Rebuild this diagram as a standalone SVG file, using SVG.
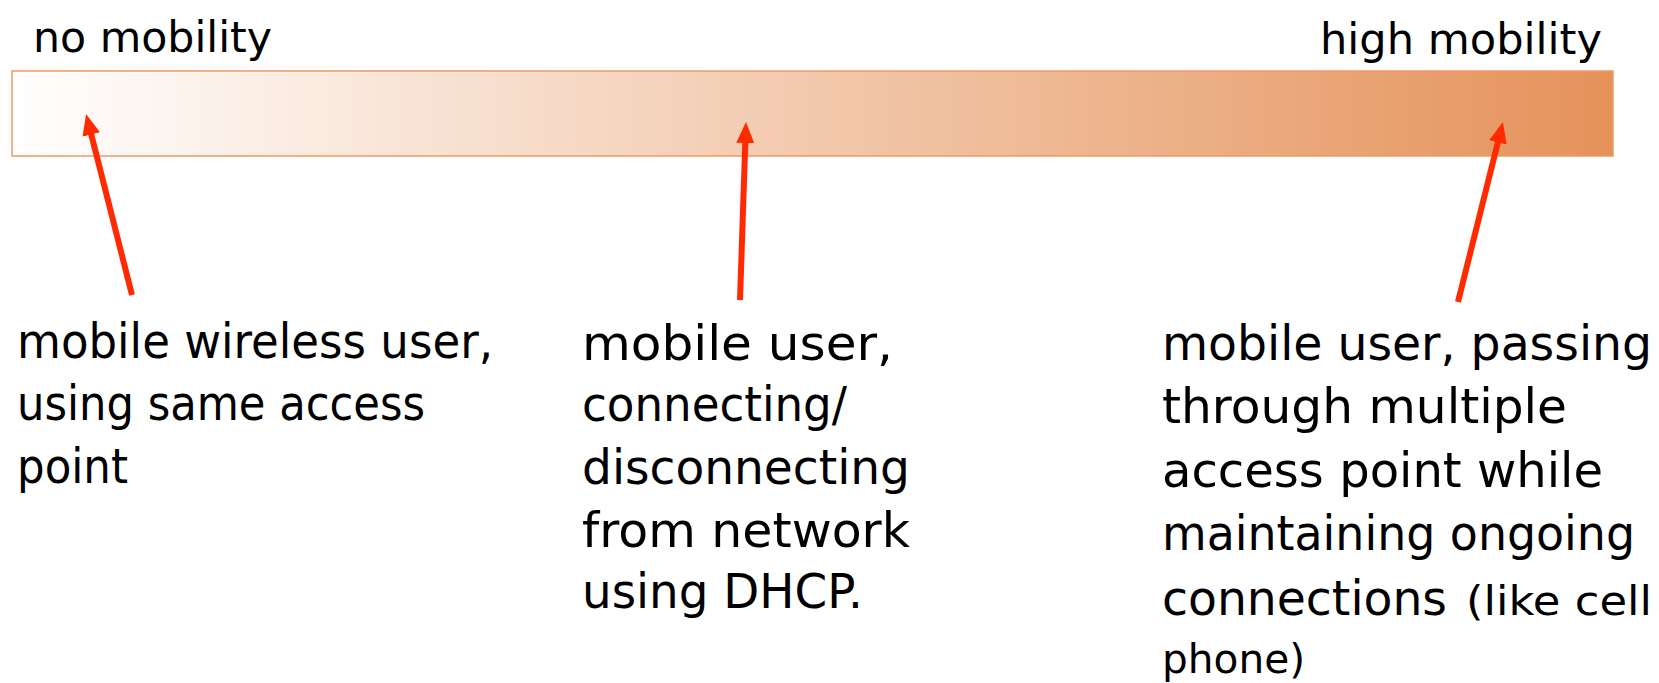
<svg xmlns="http://www.w3.org/2000/svg" width="1659" height="683" viewBox="0 0 1659 683">
  <defs>
    <linearGradient id="mob" x1="0" y1="0" x2="1" y2="0">
      <stop offset="0" stop-color="#FFFFFF"/>
      <stop offset="1" stop-color="#E5925A"/>
    </linearGradient>
    <marker id="ah" markerUnits="userSpaceOnUse" markerWidth="24" markerHeight="20" refX="1" refY="9" orient="auto">
      <path d="M0,0 L21,9 L0,18 Z" fill="#FF2A00"/>
    </marker>
    <style>
      .t { font-family: "DejaVu Sans", "Liberation Sans", sans-serif; fill: #000; }
      .lbl { font-size: 43px; }
      .big { font-size: 48px; }
      .sm { font-size: 40px; }
      .arr { stroke: #FF2A00; stroke-width: 6; fill: none; marker-end: url(#ah); }
    </style>
  </defs>
  <rect width="1659" height="683" fill="#FFFFFF"/>

  <g id="scale-bar">
    <rect x="12" y="71" width="1601" height="85" fill="url(#mob)" stroke="#EE9A62" stroke-width="1.5"/>
  </g>

  <g id="label-no-mobility">
    <text class="t lbl" x="33" y="52" textLength="239" lengthAdjust="spacingAndGlyphs">no mobility</text>
  </g>
  <g id="label-high-mobility">
    <text class="t lbl" x="1320" y="54" textLength="282" lengthAdjust="spacingAndGlyphs">high mobility</text>
  </g>

  <g id="connectors">
    <line class="arr" x1="132" y1="295" x2="91" y2="133.5"/>
    <line class="arr" x1="740" y1="300" x2="745.3" y2="142"/>
    <line class="arr" x1="1458" y1="302" x2="1498.1" y2="141.4"/>
  </g>

  <g id="node-static">
    <text class="t big" x="17" y="358" textLength="476" lengthAdjust="spacingAndGlyphs">mobile wireless user,</text>
    <text class="t big" x="17" y="420" textLength="408" lengthAdjust="spacingAndGlyphs">using same access</text>
    <text class="t big" x="17" y="483" textLength="111" lengthAdjust="spacingAndGlyphs">point</text>
  </g>

  <g id="node-dhcp">
    <text class="t big" x="582" y="360" textLength="311" lengthAdjust="spacingAndGlyphs">mobile user,</text>
    <text class="t big" x="582" y="421" textLength="265" lengthAdjust="spacingAndGlyphs">connecting/</text>
    <text class="t big" x="582" y="484" textLength="328" lengthAdjust="spacingAndGlyphs">disconnecting</text>
    <text class="t big" x="582" y="547" textLength="328" lengthAdjust="spacingAndGlyphs">from network</text>
    <text class="t big" x="582" y="608" textLength="281" lengthAdjust="spacingAndGlyphs">using DHCP.</text>
  </g>

  <g id="node-handoff">
    <text class="t big" x="1162" y="360" textLength="490" lengthAdjust="spacingAndGlyphs">mobile user, passing</text>
    <text class="t big" x="1162" y="423" textLength="405" lengthAdjust="spacingAndGlyphs">through multiple</text>
    <text class="t big" x="1162" y="487" textLength="441" lengthAdjust="spacingAndGlyphs">access point while</text>
    <text class="t big" x="1162" y="550" textLength="473" lengthAdjust="spacingAndGlyphs">maintaining ongoing</text>
    <text class="t big" x="1162" y="615" textLength="285" lengthAdjust="spacingAndGlyphs">connections</text>
    <text class="t sm" x="1466" y="615" textLength="186" lengthAdjust="spacingAndGlyphs">(like cell</text>
    <text class="t sm" x="1162" y="673" textLength="143" lengthAdjust="spacingAndGlyphs">phone)</text>
  </g>
</svg>
